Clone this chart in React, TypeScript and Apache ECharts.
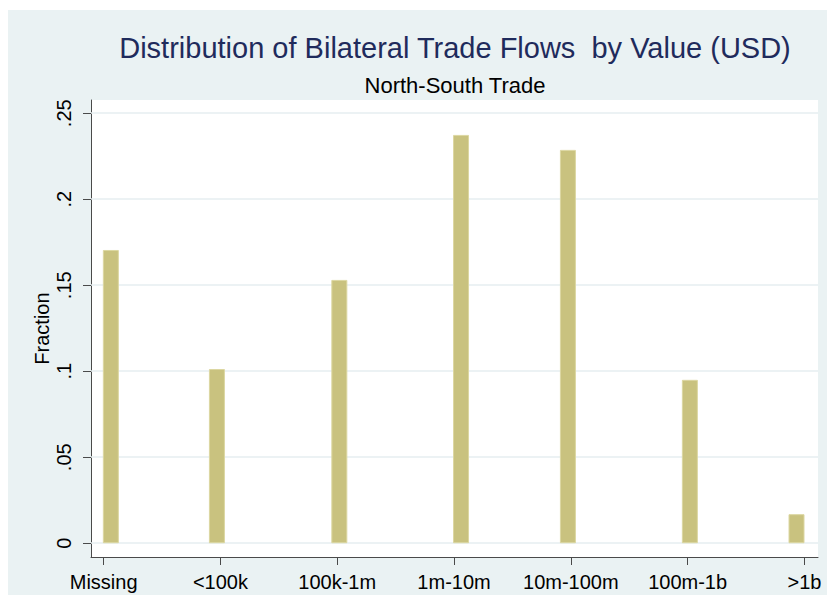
import React, { useEffect, useRef } from "react";
import * as echarts from "echarts";

const categories = ["Missing", "<100k", "100k-1m", "1m-10m", "10m-100m", "100m-1b", ">1b"];
const categoryTicks = [0, 1, 2, 3, 4, 5, 6];
const fractions = [0.1705, 0.1013, 0.1531, 0.2374, 0.2287, 0.095, 0.0169];
const binPositions = [0.062, 0.97, 2.018, 3.06, 3.975, 5.019, 5.932];
const yTicks = [0, 0.05, 0.1, 0.15, 0.2, 0.25];
const yTickLabels = ["0", ".05", ".1", ".15", ".2", ".25"];

const titleText = "Distribution of Bilateral Trade Flows  by Value (USD)";
const subtitleText = "North-South Trade";
const yName = "Fraction";

const FONT = "'Liberation Sans', Arial, Helvetica, sans-serif";

export default function App() {
  const ref = useRef<HTMLDivElement>(null);
  useEffect(() => {
    if (!ref.current) return;
    const chart = echarts.init(ref.current, undefined, { renderer: "svg" });
    const axisColor = "#4a4a4a";
    chart.setOption({
      animation: false,
      textStyle: { fontFamily: FONT },
      graphic: [
        {
          type: "rect",
          z: -10,
          silent: true,
          shape: { x: 8, y: 10, width: 819, height: 585 },
          style: { fill: "#EAF2F3" },
        },
        {
          type: "text",
          x: 455,
          y: 48,
          style: {
            text: titleText,
            textAlign: "center",
            textVerticalAlign: "middle",
            fontSize: 29,
            fontFamily: FONT,
            fill: "#1F2B5C",
          },
        },
        {
          type: "text",
          x: 455,
          y: 85,
          style: {
            text: subtitleText,
            textAlign: "center",
            textVerticalAlign: "middle",
            fontSize: 22,
            fontFamily: FONT,
            fill: "#000000",
          },
        },
      ],
      grid: {
        left: 91,
        right: 9,
        top: 100,
        bottom: 51,
        show: true,
        backgroundColor: "#ffffff",
        borderWidth: 0,
      },
      xAxis: {
        type: "value",
        min: -0.108,
        max: 6.116,
        axisLine: { show: true, onZero: false, lineStyle: { color: axisColor, width: 1 } },
        axisTick: {
          show: true,
          length: 8,
          customValues: categoryTicks,
          lineStyle: { color: axisColor, width: 1 },
        },
        axisLabel: {
          customValues: categoryTicks,
          formatter: (v: number) => categories[Math.round(v)] ?? "",
          fontSize: 20,
          color: "#000",
          margin: 15,
          fontFamily: FONT,
        },
        splitLine: { show: false },
      },
      yAxis: {
        type: "value",
        min: -0.008,
        max: 0.2577,
        name: yName,
        nameLocation: "middle",
        nameGap: 39,
        nameMoveOverlap: false,
        nameRotate: 90,
        nameTextStyle: { fontSize: 20, color: "#000", fontFamily: FONT },
        axisLine: { show: true, onZero: false, lineStyle: { color: axisColor, width: 1 } },
        axisTick: {
          show: true,
          length: 8,
          customValues: yTicks,
          lineStyle: { color: axisColor, width: 1 },
        },
        axisLabel: {
          customValues: yTicks,
          rotate: 90,
          formatter: (v: number) => {
            const i = yTicks.findIndex((t) => Math.abs(t - v) < 1e-9);
            return i >= 0 ? yTickLabels[i] : "";
          },
          fontSize: 20,
          color: "#000",
          margin: 17,
          fontFamily: FONT,
        },
        splitLine: { show: false },
      },
      series: [
        {
          type: "bar",
          z: 3,
          barWidth: 16,
          data: binPositions.map((x, i) => [x, fractions[i]]),
          itemStyle: { color: "#C9C27F", borderColor: "#DCD7A2", borderWidth: 1 },
          markLine: {
            z: 1,
            silent: true,
            symbol: "none",
            label: { show: false },
            lineStyle: { color: "#E6EEF1", width: 1.5, type: "solid" },
            data: yTicks.map((v) => ({ yAxis: v })),
          },
        },
      ],
    });
    return () => chart.dispose();
  }, []);
  return (
    <div
      ref={ref}
      style={{ position: "absolute", left: 0, top: 0, width: 827, height: 608 }}
    />
  );
}
